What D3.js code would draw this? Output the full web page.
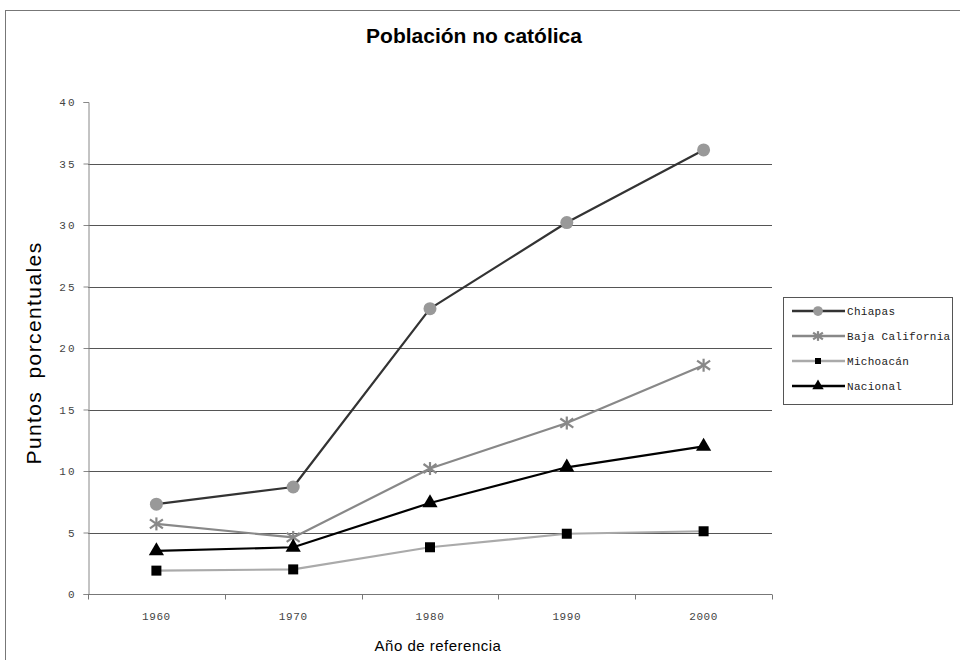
<!DOCTYPE html>
<html>
<head>
<meta charset="utf-8">
<script src="https://cdn.jsdelivr.net/npm/d3@7"></script>
<style>
  html, body { margin: 0; padding: 0; background: #fff; }
  svg { display: block; }
</style>
</head>
<body>
<script>
// Porcentaje de población no católica por entidad y año censal
const years = ["1960", "1970", "1980", "1990", "2000"];
const chiapas = [7.3, 8.7, 23.2, 30.2, 36.1];
const bajaCalifornia = [5.7, 4.6, 10.2, 13.9, 18.6];
const michoacan = [1.9, 2.0, 3.8, 4.9, 5.1];
const nacional = [3.5, 3.8, 7.4, 10.3, 12.0];
const seriesNames = ["Chiapas", "Baja California", "Michoacán", "Nacional"];
const yTicks = [0, 5, 10, 15, 20, 25, 30, 35, 40];

const W = 960, H = 660;
const margin = { left: 88, right: 188, top: 102, bottom: 66 };

const svg = d3.select("body").append("svg").attr("width", W).attr("height", H);

// marco exterior del gráfico
svg.append("rect")
  .attr("x", 5.5).attr("y", 10.5).attr("width", 970).attr("height", 700)
  .attr("fill", "none").attr("stroke", "#777").attr("stroke-width", 1);

const x = d3.scaleBand().domain(years).range([margin.left, W - margin.right]);
const y = d3.scaleLinear().domain([0, 40]).range([H - margin.bottom, margin.top]);

const monoFont = "'Liberation Mono', 'DejaVu Sans Mono', monospace";
const sansFont = "'Liberation Sans', Arial, sans-serif";

// líneas de cuadrícula
svg.append("g").selectAll("line")
  .data(yTicks.filter(t => t > 0 && t < 40))
  .join("line")
  .attr("x1", margin.left).attr("x2", W - margin.right)
  .attr("y1", d => Math.round(y(d)) + 0.5).attr("y2", d => Math.round(y(d)) + 0.5)
  .attr("stroke", "#555").attr("stroke-width", 1);

// eje Y
const yAxis = svg.append("g")
  .attr("transform", `translate(${margin.left + 0.5},0)`)
  .call(d3.axisLeft(y).tickValues(yTicks).tickSize(5).tickPadding(7).tickFormat(d3.format("d")));
yAxis.select(".domain").attr("stroke", "#888");
yAxis.selectAll(".tick line").attr("stroke", "#888");
yAxis.selectAll("text")
  .attr("font-family", monoFont).attr("font-size", 11).attr("fill", "#444")
  .attr("letter-spacing", 2);

// eje X con marcas en los bordes de cada categoría
const xAxisG = svg.append("g")
  .attr("transform", `translate(0,${Math.round(y(0)) + 0.5})`);
xAxisG.append("line")
  .attr("x1", margin.left).attr("x2", W - margin.right)
  .attr("stroke", "#777");
const bounds = years.map(d => x(d)).concat([x(years[years.length - 1]) + x.bandwidth()]);
xAxisG.selectAll("line.tk").data(bounds).join("line")
  .attr("class", "tk")
  .attr("x1", d => Math.round(d) + 0.5).attr("x2", d => Math.round(d) + 0.5)
  .attr("y1", 0).attr("y2", 5).attr("stroke", "#777");
xAxisG.selectAll("text").data(years).join("text")
  .attr("x", d => x(d) + x.bandwidth() / 2)
  .attr("y", 25)
  .attr("text-anchor", "middle")
  .attr("font-family", monoFont).attr("font-size", 11).attr("fill", "#444")
  .attr("letter-spacing", 0.6)
  .text(d => d);

// estilos de cada serie
const styles = [
  { values: chiapas, line: "#333", lw: 2.2, marker: "circle", mfill: "#999" },
  { values: bajaCalifornia, line: "#888", lw: 2.2, marker: "asterisk", mfill: "#888" },
  { values: michoacan, line: "#aaa", lw: 2.2, marker: "square", mfill: "#000" },
  { values: nacional, line: "#000", lw: 2.2, marker: "triangle", mfill: "#000" }
];

const cx = d => x(d) + x.bandwidth() / 2;

function drawMarker(g, type, color, px, py, scale) {
  const s = scale || 1;
  if (type === "circle") {
    g.append("circle").attr("cx", px).attr("cy", py).attr("r", 6.5 * s).attr("fill", color);
  } else if (type === "square") {
    const h = 5 * s;
    g.append("rect").attr("x", px - h).attr("y", py - h).attr("width", 2 * h).attr("height", 2 * h).attr("fill", color);
  } else if (type === "triangle") {
    g.append("path")
      .attr("d", d3.symbol().type(d3.symbolTriangle).size(100 * s * s)())
      .attr("transform", `translate(${px},${py})`)
      .attr("fill", color);
  } else if (type === "asterisk") {
    const r = 6.5 * s;
    const a = g.append("g").attr("transform", `translate(${px},${py})`)
      .attr("stroke", color).attr("stroke-width", 2.2);
    a.append("line").attr("x1", -r).attr("x2", r).attr("y1", -r * 0.7).attr("y2", r * 0.7);
    a.append("line").attr("x1", -r).attr("x2", r).attr("y1", r * 0.7).attr("y2", -r * 0.7);
    a.append("line").attr("x1", 0).attr("x2", 0).attr("y1", -r).attr("y2", r);
  }
}

const lineGen = d3.line().x(d => cx(d.year)).y(d => y(d.v));

styles.forEach(st => {
  const pts = years.map((yr, i) => ({ year: yr, v: st.values[i] }));
  svg.append("path")
    .datum(pts)
    .attr("d", lineGen)
    .attr("fill", "none")
    .attr("stroke", st.line)
    .attr("stroke-width", st.lw)
    .attr("stroke-linejoin", "round");
});
styles.forEach(st => {
  const g = svg.append("g");
  years.forEach((yr, i) => drawMarker(g, st.marker, st.mfill, cx(yr), y(st.values[i])));
});

// leyenda
const lg = svg.append("g");
lg.append("rect")
  .attr("x", 783.5).attr("y", 297.5).attr("width", 169).attr("height", 107)
  .attr("fill", "#fff").attr("stroke", "#555");
seriesNames.forEach((name, i) => {
  const ly = 311 + i * 25;
  const st = styles[i];
  lg.append("line").attr("x1", 792).attr("x2", 845).attr("y1", ly).attr("y2", ly)
    .attr("stroke", st.line).attr("stroke-width", 2.5);
  drawMarker(lg, st.marker, st.mfill, 818, ly, st.marker === "square" ? 0.6 : 0.75);
  lg.append("text").attr("x", 847).attr("y", ly + 4)
    .attr("font-family", monoFont).attr("font-size", 11).attr("fill", "#222")
    .attr("letter-spacing", 0.3)
    .text(name);
});

// títulos
svg.append("text")
  .attr("x", 474).attr("y", 43)
  .attr("text-anchor", "middle")
  .attr("font-family", sansFont).attr("font-weight", "bold").attr("font-size", 21)
  .attr("fill", "#000")
  .text("Población no católica");

svg.append("text")
  .attr("transform", `translate(41,353) rotate(-90)`)
  .attr("text-anchor", "middle")
  .attr("font-family", sansFont).attr("font-size", 21).attr("fill", "#000")
  .attr("letter-spacing", 1.4).attr("word-spacing", 5)
  .text("Puntos porcentuales");

svg.append("text")
  .attr("x", 438).attr("y", 651)
  .attr("text-anchor", "middle")
  .attr("font-family", sansFont).attr("font-size", 15).attr("fill", "#000")
  .attr("letter-spacing", 0.5)
  .text("Año de referencia");
</script>
</body>
</html>
